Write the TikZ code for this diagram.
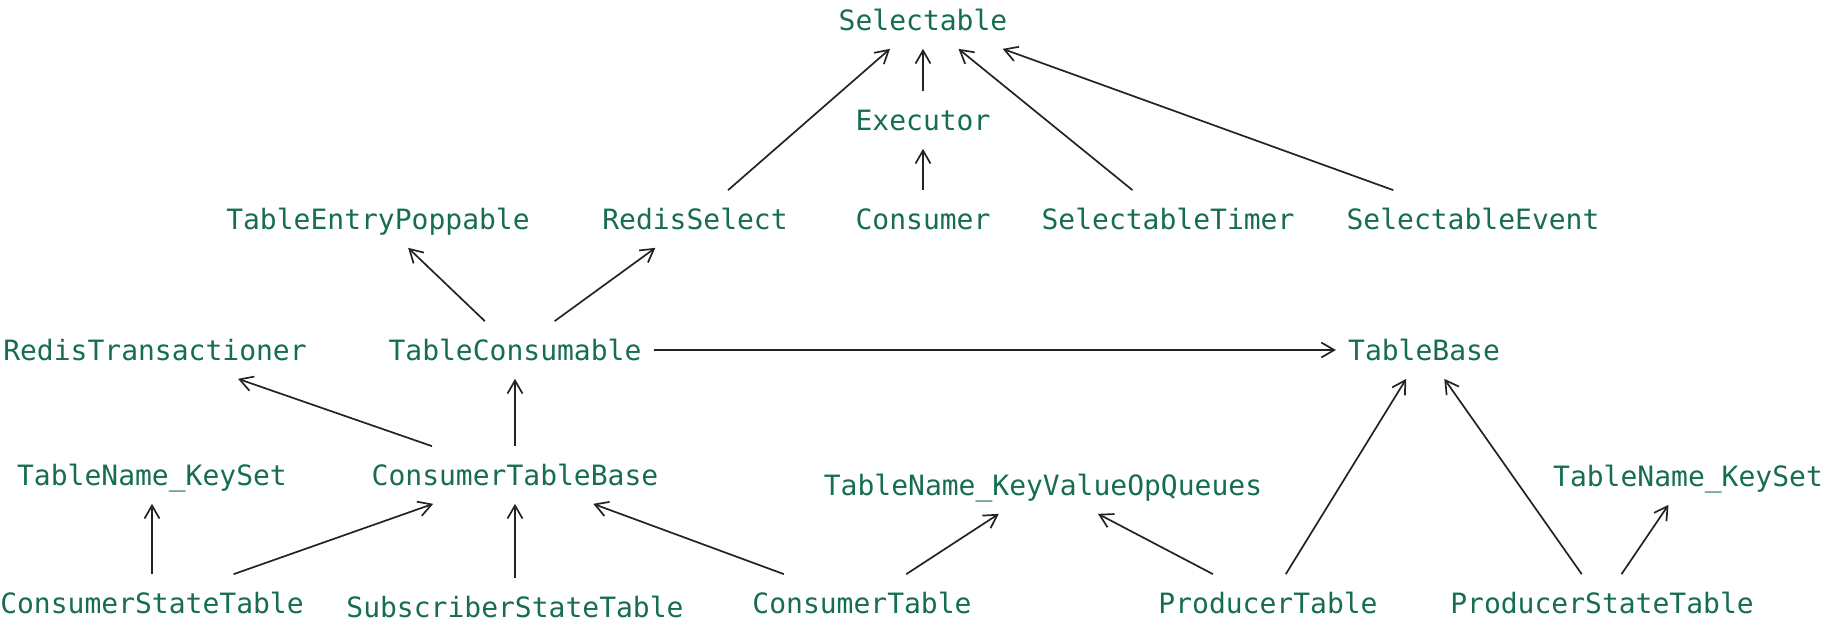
\documentclass[tikz,border=0pt]{standalone}
\usepackage{fontspec}
\setmonofont{DejaVu Sans Mono}
\usetikzlibrary{arrows.meta}
\definecolor{clsgreen}{RGB}{22,110,78}
\definecolor{edgedark}{RGB}{35,35,35}
\tikzset{
  cname/.style={font=\fontsize{28}{30}\selectfont\ttfamily, text=clsgreen,
    inner xsep=12pt, inner ysep=18pt, text height=21.3pt, text depth=0pt},
  arrow/.style={-{Straight Barb[length=13pt, width=15pt]}, line width=1.7pt, color=edgedark}
}

\begin{document}
\begin{tikzpicture}[x=1pt, y=-1pt]
  \useasboundingbox (0,0) rectangle (1830,626);

  % Top rows
  \node[cname] (sel)    at (923, 20)  {Selectable};
  \node[cname] (exec)   at (923, 120) {Executor};
  \node[cname] (tep)    at (378, 219) {TableEntryPoppable};
  \node[cname] (rsel)   at (695, 219) {RedisSelect};
  \node[cname] (cons)   at (923, 219) {Consumer};
  \node[cname] (stimer) at (1168, 219) {SelectableTimer};
  \node[cname] (sevent) at (1473, 219) {SelectableEvent};

  % Middle row
  \node[cname] (rtx)   at (155, 350)  {RedisTransactioner};
  \node[cname] (tcons) at (515, 350)  {TableConsumable};
  \node[cname] (tbase) at (1424, 350) {TableBase};

  % Lower rows
  \node[cname] (tnksl) at (152, 475)  {TableName\_KeySet};
  \node[cname] (ctb)   at (515, 475)  {ConsumerTableBase};
  \node[cname] (tnkv)  at (1043, 485) {TableName\_KeyValueOpQueues};
  \node[cname] (tnksr) at (1688, 476) {TableName\_KeySet};

  \node[cname] (cst)  at (152, 603)  {ConsumerStateTable};
  \node[cname] (sst)  at (515, 607)  {SubscriberStateTable};
  \node[cname] (ctab) at (862, 603)  {ConsumerTable};
  \node[cname] (ptab) at (1268, 603) {ProducerTable};
  \node[cname] (pst)  at (1602, 603) {ProducerStateTable};

  % Inheritance arrows
  \draw[arrow] (rsel) -- (sel);
  \draw[arrow] (exec) -- (sel);
  \draw[arrow] (cons) -- (exec);
  \draw[arrow] (stimer) -- (sel);
  \draw[arrow] (sevent) -- (sel);

  \draw[arrow] (tcons) -- (tep);
  \draw[arrow] (tcons) -- (rsel);
  \draw[arrow] (tcons) -- (tbase);

  \draw[arrow] (ctb) -- (rtx);
  \draw[arrow] (ctb) -- (tcons);

  \draw[arrow] (cst) -- (tnksl);
  \draw[arrow] (cst) -- (ctb);
  \draw[arrow] (sst) -- (ctb);
  \draw[arrow] (ctab) -- (ctb);
  \draw[arrow] (ctab) -- (tnkv);
  \draw[arrow] (ptab) -- (tnkv);
  \draw[arrow] (ptab) -- (tbase);
  \draw[arrow] (pst) -- (tbase);
  \draw[arrow] (pst) -- (tnksr);
\end{tikzpicture}
\end{document}
